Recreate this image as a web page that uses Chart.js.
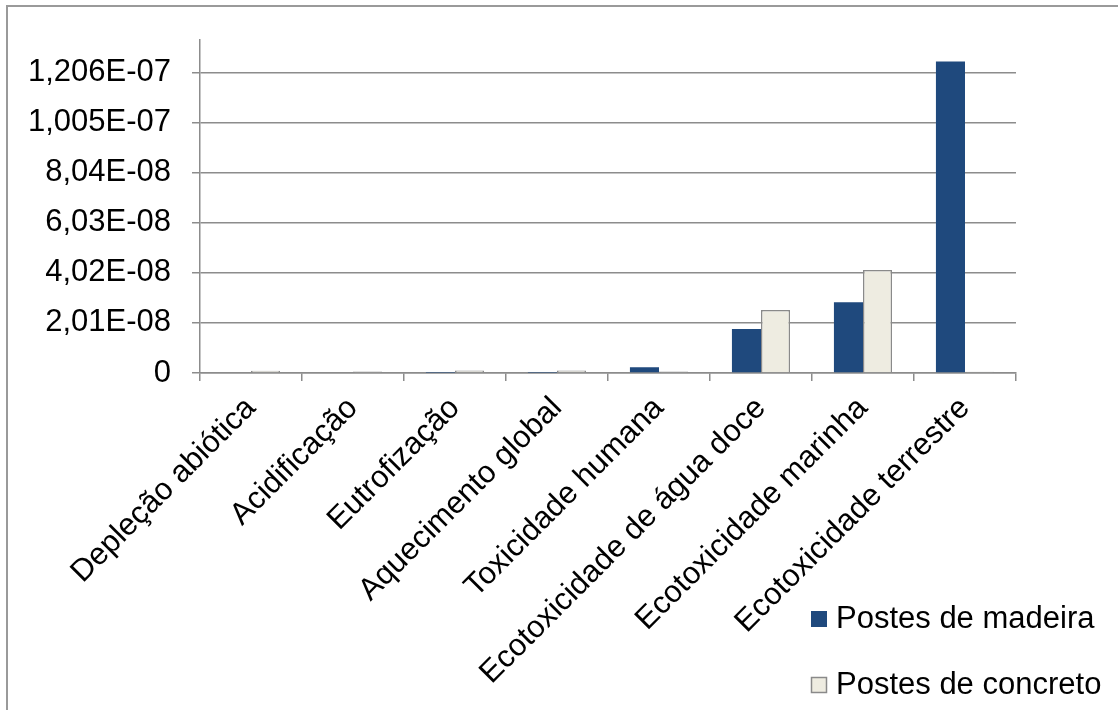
<!DOCTYPE html>
<html>
<head>
<meta charset="utf-8">
<script src="https://cdn.jsdelivr.net/npm/chart.js@4"></script>
<style>
    html, body { margin: 0; padding: 0; background: #fff; }
    #wrap { width: 1118px; height: 710px; position: relative; }
</style>
</head>
<body>
<div id="wrap"><canvas id="impactChart" width="1118" height="710"></canvas></div>
<script>
// categories and series values
const categories = ['Depleção abiótica', 'Acidificação', 'Eutrofização', 'Aquecimento global',
    'Toxicidade humana', 'Ecotoxicidade de água doce', 'Ecotoxicidade marinha', 'Ecotoxicidade terrestre'];
const seriesNames = ['Postes de madeira', 'Postes de concreto'];
const madeira = [0, 0, 1e-10, 1e-10, 2.3e-9, 1.77e-8, 2.84e-8, 1.25e-7];
const concreto = [9e-10, 6e-10, 1e-9, 1e-9, 6e-10, 2.53e-8, 4.13e-8, 5e-10];
const tickValues = [0, 2.01e-8, 4.02e-8, 6.03e-8, 8.04e-8, 1.005e-7, 1.206e-7];
const tickLabels = ['0', '2,01E-08', '4,02E-08', '6,03E-08', '8,04E-08', '1,005E-07', '1,206E-07'];
const axisMax = 1.3375e-7;

const FONT = '"Liberation Sans", Arial, sans-serif';
const GRID = '#8c8c8c';

document.addEventListener('DOMContentLoaded', function() {
    initializeChart();
});

const frameAndLegend = {
    id: 'frameAndLegend',
    beforeDraw(chart) {
        const ctx = chart.ctx;
        ctx.save();
        ctx.strokeStyle = '#9a9a9a';
        ctx.lineWidth = 2;
        ctx.strokeRect(7, 6, 1300, 900);
        ctx.restore();
    },
    afterDraw(chart) {
        const ctx = chart.ctx;
        ctx.save();
        ctx.font = '31px ' + FONT;
        ctx.textBaseline = 'middle';
        chart.data.datasets.forEach((ds, i) => {
            const y = 619 + i * 66;
            ctx.fillStyle = ds.backgroundColor;
            ctx.fillRect(811, y - 8, 16, 16);
            if (ds.borderWidth) {
                ctx.strokeStyle = ds.borderColor;
                ctx.lineWidth = 1.5;
                ctx.strokeRect(811.5, y - 7.5, 15, 15);
            }
            ctx.fillStyle = '#000';
            ctx.fillText(ds.label, 836, y);
        });
        ctx.restore();
    }
};

function initializeChart() {
    const ctx = document.getElementById('impactChart').getContext('2d');
    window.impactChart = new Chart(ctx, {
        type: 'bar',
        data: {
            labels: categories,
            datasets: [{
                label: seriesNames[0],
                data: madeira,
                backgroundColor: '#1f497d',
                borderWidth: 0
            }, {
                label: seriesNames[1],
                data: concreto,
                backgroundColor: '#eeece1',
                borderColor: '#8a8a8a',
                borderWidth: 1.5
            }]
        },
        options: {
            responsive: false,
            animation: false,
            devicePixelRatio: 1,
            categoryPercentage: 0.57,
            barPercentage: 1,
            layout: {
                padding: { left: 0, top: 38, right: 102, bottom: 0 }
            },
            plugins: {
                legend: { display: false },
                tooltip: { enabled: false }
            },
            scales: {
                x: {
                    grid: {
                        offset: true,
                        drawOnChartArea: false,
                        drawTicks: true,
                        tickLength: 8,
                        color: GRID,
                        lineWidth: 1.5
                    },
                    border: { color: GRID, width: 1.5 },
                    ticks: {
                        minRotation: 45,
                        maxRotation: 45,
                        autoSkip: false,
                        padding: 9,
                        color: '#000',
                        font: { family: FONT, size: 31 }
                    },
                    afterFit: function(scale) {
                        scale.height = 337;
                    }
                },
                y: {
                    min: 0,
                    max: axisMax,
                    grid: {
                        drawTicks: true,
                        tickLength: 8,
                        color: GRID,
                        lineWidth: 1.5
                    },
                    border: { color: GRID, width: 1.5 },
                    ticks: {
                        padding: 21,
                        color: '#000',
                        font: { family: FONT, size: 31 },
                        callback: function(value, index) {
                            return tickLabels[index];
                        }
                    },
                    afterBuildTicks: function(scale) {
                        scale.ticks = tickValues.map(v => ({ value: v }));
                    },
                    afterFit: function(scale) {
                        scale.width = 200;
                    }
                }
            }
        },
        plugins: [frameAndLegend]
    });
}
</script>
</body>
</html>
